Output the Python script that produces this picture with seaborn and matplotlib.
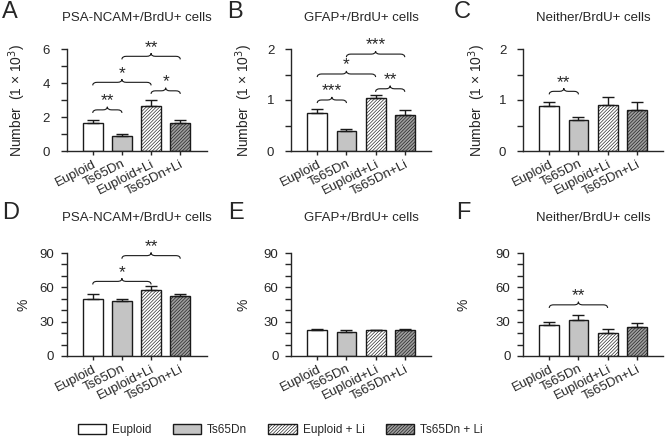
import seaborn as sns
import matplotlib.pyplot as plt
from matplotlib.path import Path
from matplotlib.patches import PathPatch, Patch
from matplotlib.ticker import MultipleLocator

groups = ['Euploid', 'Ts65Dn', 'Euploid+Li', 'Ts65Dn+Li']
legend_labels = ['Euploid', 'Ts65Dn', 'Euploid + Li', 'Ts65Dn + Li']

# 上段: 細胞数 (x1000), 下段: 割合 (%)
a_mean = [1.63, 0.91, 2.64, 1.67]
a_err = [0.20, 0.11, 0.37, 0.18]
b_mean = [0.75, 0.39, 1.03, 0.71]
b_err = [0.07, 0.04, 0.075, 0.09]
c_mean = [0.89, 0.61, 0.90, 0.81]
c_err = [0.07, 0.05, 0.15, 0.15]
d_mean = [50.0, 48.0, 57.9, 52.6]
d_err = [4.1, 1.4, 2.9, 1.5]
e_mean = [23.1, 20.8, 22.8, 22.5]
e_err = [0.6, 2.0, 0.3, 1.5]
f_mean = [27.2, 31.6, 19.9, 25.4]
f_err = [2.9, 4.4, 3.8, 3.8]

# 有意差 (群i, 群j, 高さ, 記号)
a_sig = [(0, 1, 2.42, '**'), (0, 2, 4.04, '*'), (2, 3, 3.54, '*'), (1, 3, 5.57, '**')]
b_sig = [(0, 1, 1.00, '***'), (0, 2, 1.51, '*'), (2, 3, 1.22, '**'), (1, 3, 1.90, '***')]
c_sig = [(0, 1, 1.17, '**')]
d_sig = [(0, 2, 65.2, '*'), (1, 3, 87.7, '**')]
e_sig = []
f_sig = [(0, 2, 44.7, '**')]

titles = ['PSA-NCAM+/BrdU+ cells', 'GFAP+/BrdU+ cells', 'Neither/BrdU+ cells']

face = {'Euploid': 'white', 'Ts65Dn': '#c4c4c4', 'Euploid+Li': 'white', 'Ts65Dn+Li': '#9e9e9e'}
hatch = {'Euploid': '', 'Ts65Dn': '', 'Euploid+Li': '//////////', 'Ts65Dn+Li': '//////////'}
edge = '#1a1a1a'

sns.set_style('ticks')
plt.rcParams['font.family'] = ['Liberation Sans', 'DejaVu Sans']
plt.rcParams['hatch.linewidth'] = 0.45
plt.rcParams['axes.linewidth'] = 1.0

W, H = 666, 438
fig = plt.figure(figsize=(W / 100, H / 100), dpi=100)

col_left = [66.5, 291, 523]
row_bottom = [151, 356]
row_height = [102, 103]


def brace(ax, i, j, y, label, h):
    xm = (i + j) / 2
    d = 0.15
    verts = [(i, y - h), (i, y), (i + d, y), (xm - d, y), (xm, y), (xm, y + h),
             (xm, y), (xm + d, y), (j - d, y), (j, y), (j, y - h)]
    codes = [Path.MOVETO, Path.CURVE3, Path.CURVE3, Path.LINETO, Path.CURVE3, Path.CURVE3,
             Path.CURVE3, Path.CURVE3, Path.LINETO, Path.CURVE3, Path.CURVE3]
    ax.add_patch(PathPatch(Path(verts, codes), fill=False, lw=0.8, edgecolor=edge, clip_on=False))
    ax.annotate(label, xy=(xm, y + h), xytext=(0, -1), textcoords='offset points',
                ha='center', va='bottom', fontsize=12.5, annotation_clip=False)


panels = [
    ('A', a_mean, a_err, a_sig, 6, 2, 1, 0, 0),
    ('B', b_mean, b_err, b_sig, 2, 1, 0.5, 0, 1),
    ('C', c_mean, c_err, c_sig, 2, 1, 0.5, 0, 2),
    ('D', d_mean, d_err, d_sig, 90, 30, 10, 1, 0),
    ('E', e_mean, e_err, e_sig, 90, 30, 10, 1, 1),
    ('F', f_mean, f_err, f_sig, 90, 30, 10, 1, 2),
]
letter_x = [2, 227, 454, 2, 228, 456]
ylabel_x = [17.5, 244, 477, 24, 244, 464]

for k, (letter, mean, err, sig, ymax, major, minor, r, c) in enumerate(panels):
    left = col_left[c]
    ax = fig.add_axes([left / W, (H - row_bottom[r]) / H, 140 / W, row_height[r] / H])
    sns.barplot(x=groups, y=mean, hue=groups, palette=face, order=groups, hue_order=groups,
                width=0.68, saturation=1, errorbar=None, legend=False,
                edgecolor=edge, linewidth=1.0, ax=ax)
    for p, g in zip(ax.patches, groups):
        p.set_hatch(hatch[g])
    ax.errorbar(range(4), mean, yerr=[[0] * 4, err], fmt='none', ecolor=edge,
                elinewidth=1.0, capsize=4, capthick=1.0, zorder=5)
    for i, j, y, lab in sig:
        brace(ax, i, j, y, lab, ymax * 0.03)

    ax.set_xlim(-0.9, 3.9)
    ax.set_ylim(0, ymax)
    ax.yaxis.set_major_locator(MultipleLocator(major))
    ax.yaxis.set_minor_locator(MultipleLocator(minor))
    ax.set_xticks(range(4))
    ax.set_xticklabels(groups, rotation=27, ha='right', rotation_mode='anchor', fontsize=9.5)
    ax.tick_params(axis='y', which='both', length=4, width=1.0, labelsize=9.5, pad=8 if r == 0 else 5)
    ax.tick_params(axis='x', length=3, width=1.0, pad=2)
    sns.despine(ax=ax)

    ylab = 'Number  (1 × 10$^3$)' if r == 0 else '%'
    ax.set_ylabel(ylab, fontsize=10, va='center')
    ax.yaxis.set_label_coords((ylabel_x[k] - left) / 140, 0.5)
    ax.set_xlabel('')

    ty = 18 if r == 0 else 218
    fig.text((left + 70) / W, 1 - ty / H, titles[c], ha='center', va='center', fontsize=9.5)
    ly = 12.5 if r == 0 else 213
    fig.text(letter_x[k] / W, 1 - ly / H, letter, ha='left', va='center', fontsize=17)

handles = [Patch(facecolor=face[g], edgecolor=edge, hatch=hatch[g], linewidth=1.0) for g in groups]
fig.legend(handles, legend_labels, loc='center left', bbox_to_anchor=(78 / W, 8 / H),
           ncol=4, frameon=False, fontsize=8.5, handlelength=2.4, handleheight=0.85,
           handletextpad=0.5, columnspacing=1.8, borderpad=0, borderaxespad=0)

fig.savefig('out.png', dpi=100)
